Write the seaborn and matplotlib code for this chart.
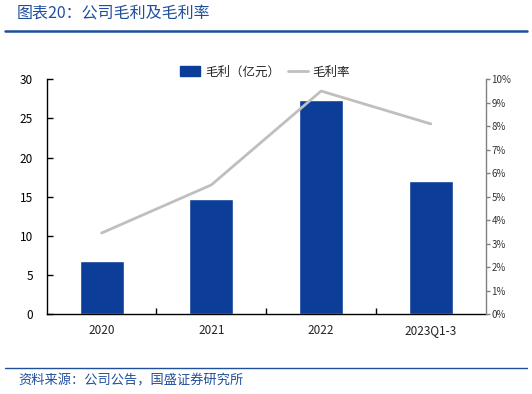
import numpy as np
import pandas as pd
import matplotlib
matplotlib.use("Agg")
import matplotlib.pyplot as plt
from matplotlib.patches import Patch
from matplotlib.lines import Line2D
import seaborn as sns

categories = ["2020", "2021", "2022", "2023Q1-3"]
gross_profit = [6.8, 14.7, 27.3, 17.0]          # 亿元
gross_margin = [3.45, 5.5, 9.5, 8.1]            # %
left_ticks = [0, 5, 10, 15, 20, 25, 30]
right_ticks = list(range(0, 11))

sns.set_theme(style="white")
plt.rcParams["font.family"] = ["Noto Sans CJK SC", "DejaVu Sans"]

BAR = "#0B3D99"
LINE = "#BFBFBF"
BLUE = "#1F4E9C"

fig = plt.figure(figsize=(5.32, 3.94), dpi=100)
ax = fig.add_axes([46.7 / 532, 1 - 314 / 394, (485.7 - 46.7) / 532, (314 - 79.3) / 394])

df = pd.DataFrame({"cat": categories, "profit": gross_profit, "margin": gross_margin})
sns.barplot(data=df, x="cat", y="profit", color=BAR, width=0.4, saturation=1, ax=ax)
ax.set_xlim(-0.5, 3.5)
ax.set_ylim(0, 30)
ax.set_yticks(left_ticks)
ax.set_xlabel("")
ax.set_ylabel("")
ax.tick_params(axis="y", direction="in", length=4, width=1, colors="black", labelsize=8.5, pad=10)
ax.tick_params(axis="x", length=0, labelsize=8.5, pad=7, colors="#222222")
ax.set_xticks([0.5, 1.5, 2.5], minor=True)
ax.tick_params(axis="x", which="minor", direction="in", length=4, width=1, color="black", bottom=True)
for s in ["top"]:
    ax.spines[s].set_visible(False)
ax.spines["left"].set_color("black")
ax.spines["bottom"].set_color("black")
ax.spines["left"].set_linewidth(1)
ax.spines["bottom"].set_linewidth(1)
ax.spines["right"].set_visible(False)

ax2 = ax.twinx()
sns.lineplot(x=np.arange(len(categories)), y=gross_margin, color=LINE, linewidth=2.0, ax=ax2, sort=False)
ax2.set_ylim(0, 10)
ax2.set_yticks(right_ticks)
ax2.set_yticklabels([f"{t}%" for t in right_ticks])
ax2.tick_params(axis="y", direction="out", length=3, width=1, color="#808080", labelcolor="#333333", labelsize=7, pad=1)
ax2.spines["right"].set_color("#808080")
ax2.spines["right"].set_linewidth(1)
for s in ["top", "left", "bottom"]:
    ax2.spines[s].set_visible(False)
ax2.grid(False)
ax.grid(False)

handles = [Patch(facecolor=BAR, edgecolor=BAR), Line2D([0], [0], color=LINE, linewidth=2)]
fig.legend(handles, ["毛利（亿元）", "毛利率"], loc="center", bbox_to_anchor=(265 / 532, 1 - 72 / 394),
           ncol=2, frameon=False, fontsize=9, handlelength=1.6, handleheight=0.9, columnspacing=0.6,
           handletextpad=0.4)

fig.text(17 / 532, 1 - 14 / 394, "图表20：公司毛利及毛利率", color=BLUE, fontsize=11.5,
         style="italic", va="center", ha="left")
fig.add_artist(Line2D([5 / 532, 527 / 532], [1 - 31 / 394] * 2, color="#1F4E9C", linewidth=1.8))
fig.add_artist(Line2D([5 / 532, 527 / 532], [1 - 368 / 394] * 2, color="#1F4E9C", linewidth=1.0))
fig.text(18 / 532, 1 - 381 / 394, "资料来源：公司公告，国盛证券研究所", color=BLUE, fontsize=9.5,
         style="italic", va="center", ha="left")

fig.savefig("out.png", dpi=100)
